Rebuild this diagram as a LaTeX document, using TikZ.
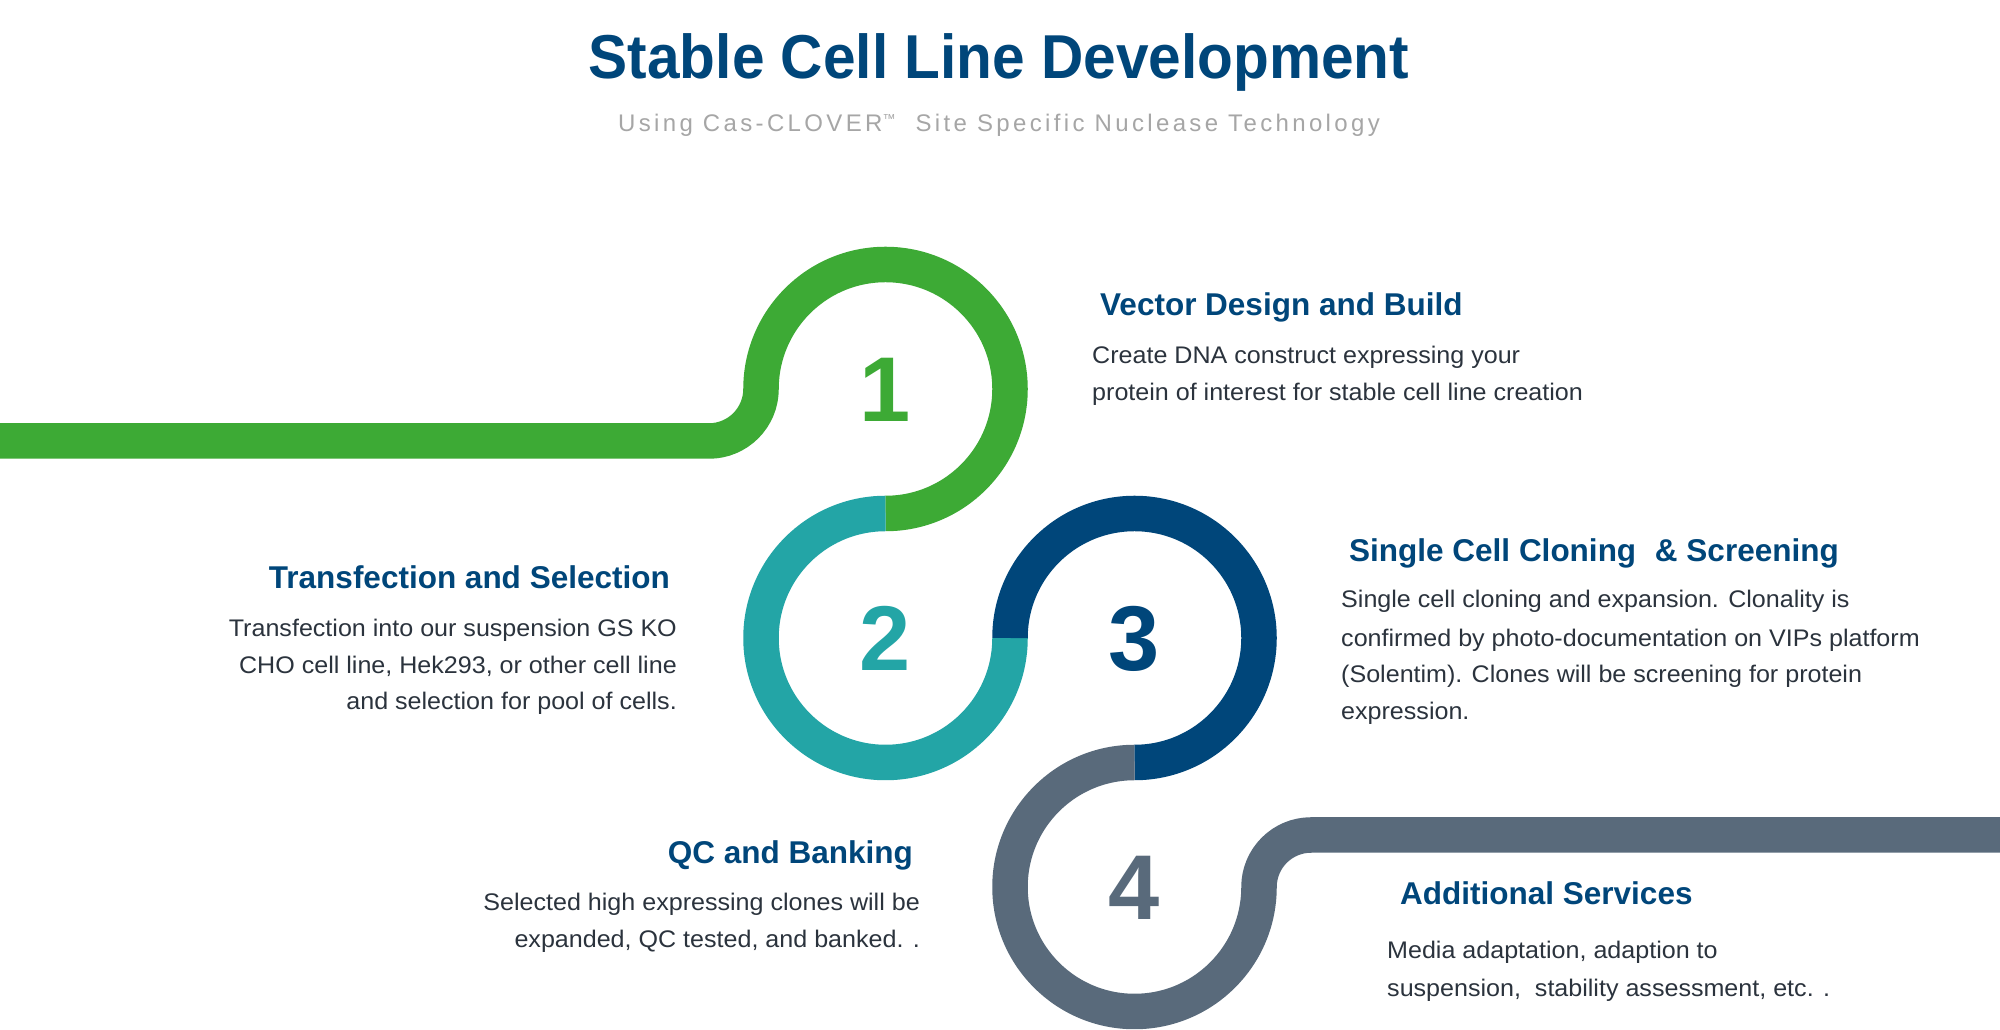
\documentclass[tikz,border=0pt]{standalone}
\usepackage{fontspec}
\setmainfont{Liberation Sans}
\newfontfamily\titlefont[FakeStretch=0.945]{Liberation Sans Bold}
\newfontfamily\headfont{Liberation Sans Bold}
\newfontfamily\bodyfont[FakeStretch=1.045]{Liberation Sans}
\newfontfamily\subfont[LetterSpace=14]{Liberation Sans}
\definecolor{cgreen}{HTML}{3DAA35}
\definecolor{cteal}{HTML}{23A5A6}
\definecolor{cblue}{HTML}{00467A}
\definecolor{cgray}{HTML}{596A7B}
\definecolor{ctext}{HTML}{2B333D}
\definecolor{csub}{HTML}{A6A6A6}
\tikzset{
  ring/.style={line width=35.5pt, line cap=butt},
  heading/.style={inner sep=0pt, text=cblue, font=\headfont\fontsize{31.5}{31.5}\selectfont},
  bodyline/.style={inner sep=0pt, text=ctext, font=\bodyfont\fontsize{24}{24}\selectfont},
  digit/.style={inner sep=0pt, anchor=base, font=\headfont\fontsize{92}{92}\selectfont}
}
\begin{document}
\begin{tikzpicture}[x=1pt,y=1pt]
\useasboundingbox (0,0) rectangle (2000,1030);
\fill[white] (0,0) rectangle (2000,1030);
% path
\draw[ring, cgreen] (0,589) -- (709,589) arc[start angle=-90, end angle=0, radius=52]
  arc[start angle=180, end angle=-90, radius=124.5];
\draw[ring, cteal] (885.5,516.5) arc[start angle=90, end angle=360, radius=124.5];
\draw[ring, cblue] (1010,392) arc[start angle=180, end angle=-90, radius=124.5];
\draw[ring, cgray] (1134.5,267.5) arc[start angle=90, end angle=360, radius=124.5]
  arc[start angle=180, end angle=90, radius=52] -- (2000,195);
% digits
\node[digit, text=cgreen] (d1) at (885.5,608) {1};
\node[digit, text=cteal] (d2) at (885.5,359) {2};
\node[digit, text=cblue] (d3) at (1134.5,359) {3};
\node[digit, text=cgray] (d4) at (1134.5,110) {4};
% title
\node[inner sep=0pt, anchor=base, text=cblue, font=\titlefont\fontsize{62}{62}\selectfont] (title) at (999,951) {Stable Cell Line Development};
\node[inner sep=0pt, anchor=base, text=csub, font=\subfont\fontsize{24}{24}\selectfont] (sub) at (999,898) {Using Cas-CLOVER\raisebox{0.35em}{\fontsize{13}{13}\selectfont ™}\ \ Site Specific Nuclease Technology};
% step 1
\node[heading, anchor=base west] (h1) at (1100,714) {Vector Design and Build};
\node[bodyline, anchor=base west] (b1a) at (1092,666) {Create DNA construct expressing your};
\node[bodyline, anchor=base west] (b1b) at (1092,629) {protein of interest for stable cell line creation};
% step 2
\node[heading, anchor=base east] (h2) at (670,441) {Transfection and Selection};
\node[bodyline, anchor=base east] (b2a) at (677,393) {Transfection into our suspension GS KO};
\node[bodyline, anchor=base east] (b2b) at (677,356) {CHO cell line, Hek293, or other cell line};
\node[bodyline, anchor=base east] (b2c) at (677,320) {and selection for pool of cells.};
% step 3
\node[heading, anchor=base west] (h3) at (1349,468) {Single Cell Cloning\hspace{10pt} \& Screening};
\node[bodyline, anchor=base west] (b3a) at (1341,422) {Single cell cloning and expansion. Clonality is};
\node[bodyline, anchor=base west] (b3b) at (1341,383) {confirmed by photo-documentation on VIPs platform};
\node[bodyline, anchor=base west] (b3c) at (1341,347) {(Solentim). Clones will be screening for protein};
\node[bodyline, anchor=base west] (b3d) at (1341,310) {expression.};
% step 4
\node[heading, anchor=base east] (h4) at (913,166) {QC and Banking};
\node[bodyline, anchor=base east] (b4a) at (920,119) {Selected high expressing clones will be};
\node[bodyline, anchor=base east] (b4b) at (920,82) {expanded, QC tested, and banked. .};
% step 5
\node[heading, anchor=base west] (h5) at (1400,125) {Additional Services};
\node[bodyline, anchor=base west] (b5a) at (1387,71) {Media adaptation, adaption to};
\node[bodyline, anchor=base west] (b5b) at (1387,33) {suspension, \ stability assessment, etc. .};
\end{tikzpicture}
\end{document}
